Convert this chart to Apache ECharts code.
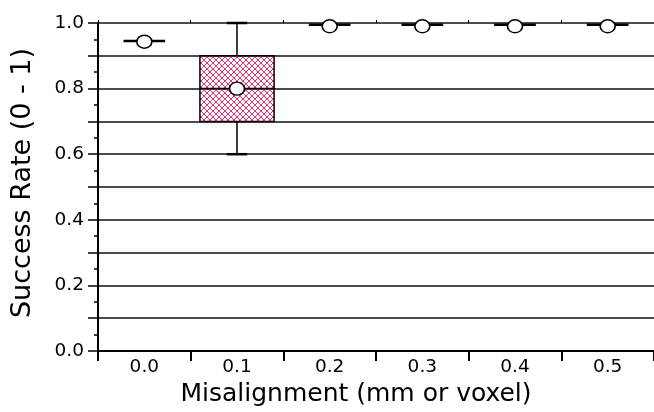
<!DOCTYPE html>
<html>
<head>
<meta charset="utf-8">
<script src="https://cdn.jsdelivr.net/npm/echarts@6/dist/echarts.min.js"></script>
<style>
html,body{margin:0;padding:0;background:#fff;}
#chart{width:654px;height:412px;}
</style>
</head>
<body>
<div id="chart"></div>
<script>
// ---- data ----
var categories = ['0.0', '0.1', '0.2', '0.3', '0.4', '0.5'];
var minVals    = [0.945, 0.60, 0.995, 0.995, 0.995, 0.995];
var q1Vals     = [0.945, 0.70, 0.995, 0.995, 0.995, 0.995];
var medianVals = [0.945, 0.80, 0.995, 0.995, 0.995, 0.995];
var q3Vals     = [0.945, 0.90, 0.995, 0.995, 0.995, 0.995];
var maxVals    = [0.945, 1.00, 0.995, 0.995, 0.995, 0.995];
var meanVals   = [0.943, 0.80, 0.99, 0.99, 0.99, 0.99];
var yTicks = { min: 0, max: 1, interval: 0.1 };

// ---- hatch pattern ----
var pc = document.createElement('canvas');
pc.width = 6; pc.height = 6;
var pctx = pc.getContext('2d');
pctx.strokeStyle = '#f0306a';
pctx.lineWidth = 1;
pctx.beginPath();
pctx.moveTo(0, 0); pctx.lineTo(6, 6);
pctx.moveTo(6, 0); pctx.lineTo(0, 6);
pctx.stroke();

var boxData = categories.map(function (c, i) {
  return [i, minVals[i], q1Vals[i], medianVals[i], q3Vals[i], maxVals[i]];
});
var meanData = categories.map(function (c, i) { return [i, meanVals[i]]; });

function renderBox(params, api) {
  var i = api.value(0);
  var band = api.size([1, 0])[0];
  var pMin = api.coord([i, api.value(1)]);
  var pQ1 = api.coord([i, api.value(2)]);
  var pMed = api.coord([i, api.value(3)]);
  var pQ3 = api.coord([i, api.value(4)]);
  var pMax = api.coord([i, api.value(5)]);
  var cx = pMed[0];
  var stroke = { stroke: '#000', lineWidth: 1.5 };
  var children = [];
  if (Math.abs(pQ1[1] - pQ3[1]) < 0.5) {
    var hw = band * 0.225;
    children.push({ type: 'line', shape: { x1: cx - hw, y1: pMed[1], x2: cx + hw, y2: pMed[1] },
      style: { stroke: '#000', lineWidth: 2.5 } });
  } else {
    var bw = band * 0.4;
    var cw = band * 0.11;
    children.push({ type: 'line', shape: { x1: cx, y1: pMax[1], x2: cx, y2: pQ3[1] }, style: stroke });
    children.push({ type: 'line', shape: { x1: cx, y1: pQ1[1], x2: cx, y2: pMin[1] }, style: stroke });
    children.push({ type: 'line', shape: { x1: cx - cw, y1: pMax[1], x2: cx + cw, y2: pMax[1] }, style: { stroke: '#000', lineWidth: 2.5 } });
    children.push({ type: 'line', shape: { x1: cx - cw, y1: pMin[1], x2: cx + cw, y2: pMin[1] }, style: { stroke: '#000', lineWidth: 2.5 } });
    children.push({ type: 'rect', shape: { x: cx - bw, y: pQ3[1], width: 2 * bw, height: pQ1[1] - pQ3[1] },
      style: { fill: { image: pc, repeat: 'repeat' }, stroke: '#000', lineWidth: 1.5 } });
    children.push({ type: 'line', shape: { x1: cx - bw, y1: pMed[1], x2: cx + bw, y2: pMed[1] }, style: stroke });
  }
  return { type: 'group', children: children };
}

var chart = echarts.init(document.getElementById('chart'), null, { renderer: 'canvas' });
var font = 'DejaVu Sans';
chart.setOption({
  backgroundColor: '#fff',
  animation: false,
  grid: { left: 98, top: 23, bottom: 55, right: -8, containLabel: false },
  xAxis: [{
    type: 'category',
    data: categories,
    boundaryGap: true,
    axisLine: { show: true, lineStyle: { color: '#000', width: 2 } },
    axisTick: { show: true, length: 10, alignWithLabel: false, lineStyle: { color: '#000', width: 2 } },
    axisLabel: { color: '#000', fontSize: 18.5, fontFamily: font, margin: 7 },
    splitLine: { show: false },
    name: 'Misalignment (mm or voxel)',
    nameLocation: 'middle',
    nameGap: 31,
    nameTextStyle: { color: '#000', fontSize: 25, fontFamily: font, padding: [0, 40, 0, 0] }
  }, {
    type: 'category',
    data: categories,
    position: 'top',
    boundaryGap: true,
    axisLine: { show: false },
    axisTick: { show: true, length: 3, lineStyle: { color: '#000', width: 1 } },
    axisLabel: { show: false },
    splitLine: { show: false }
  }],
  yAxis: {
    type: 'value',
    min: yTicks.min, max: yTicks.max, interval: yTicks.interval,
    axisLine: { show: true, lineStyle: { color: '#000', width: 2 } },
    axisTick: { show: true, length: 10, lineStyle: { color: '#000', width: 1.5 } },
    minorTick: { show: true, splitNumber: 2, length: 4, lineStyle: { color: '#000', width: 1.5 } },
    axisLabel: {
      color: '#000', fontSize: 18.5, fontFamily: font, margin: 14,
      formatter: function (v) { return Math.round(v * 10) % 2 === 0 ? v.toFixed(1) : ''; }
    },
    splitLine: { show: true, lineStyle: { color: '#111', width: 1.5 } },
    name: 'Success Rate (0 - 1)',
    nameLocation: 'middle',
    nameGap: 62,
    nameTextStyle: { color: '#000', fontSize: 27, fontFamily: font, padding: [0, 0, 0, 8] }
  },
  series: [{
    type: 'custom',
    renderItem: renderBox,
    data: boxData,
    encode: { x: 0, y: [1, 2, 3, 4, 5] },
    clip: false,
    z: 3
  }, {
    type: 'scatter',
    data: meanData,
    symbol: 'circle',
    symbolSize: [15, 13],
    itemStyle: { color: '#fff', opacity: 1, borderColor: '#000', borderWidth: 1.5 },
    z: 5
  }]
});
</script>
</body>
</html>
